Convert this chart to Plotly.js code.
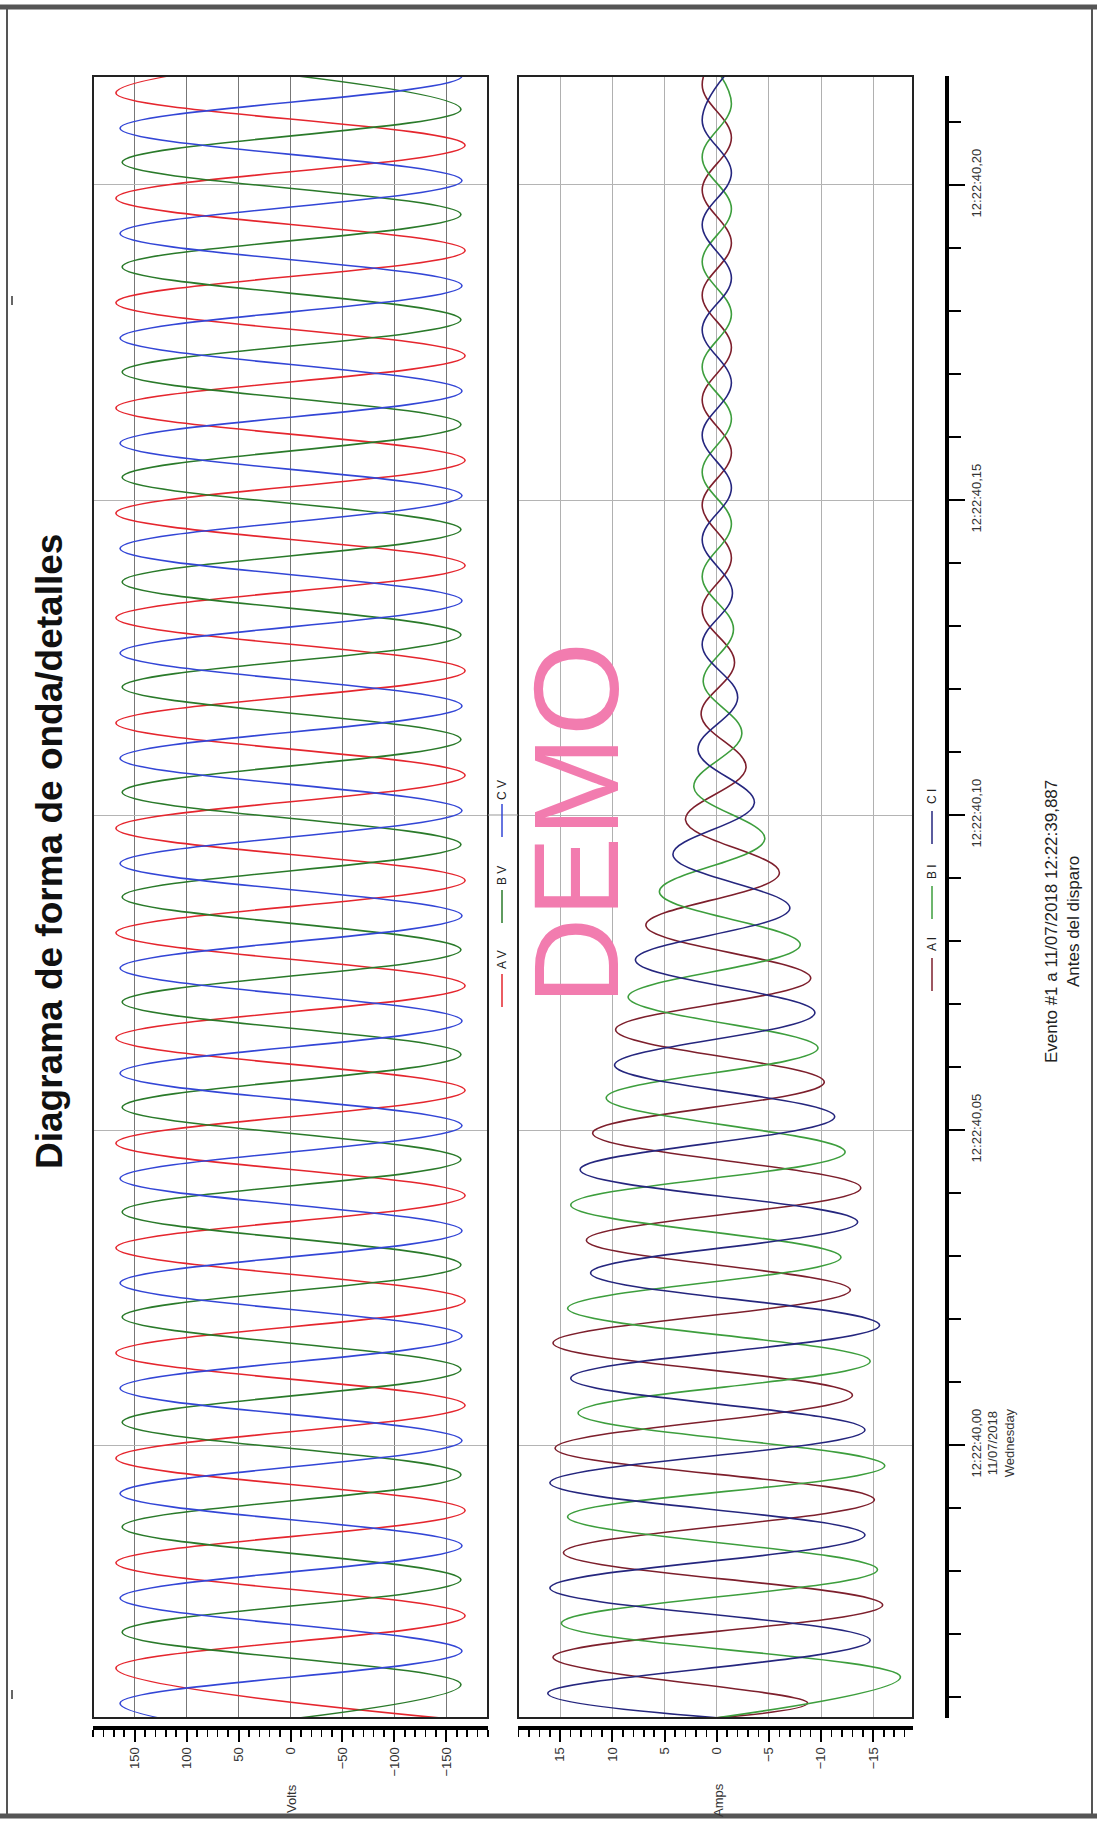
<!DOCTYPE html>
<html><head><meta charset="utf-8">
<script src="https://cdn.plot.ly/plotly-3.0.1.min.js"></script>
<style>html,body{margin:0;padding:0;background:#fff}#chart{width:1097px;height:1829px}</style>
</head><body><div id="chart"></div>
<script>
// ---- time in ms relative to 12:22:40,000 (peaks) ----
const vaT = [-43.7,-35.4,-27.1,-18.7,-10.4,-2.1,6.3,14.6,22.9,31.3,39.6,47.9,56.3,64.6,72.9,81.3,89.6,97.9,106.3,114.6,122.9,131.3,139.6,147.9,156.3,164.6,172.9,181.3,189.6,197.9,206.3,214.6,222.9];
const vaV = [-168,168,-168,168,-168,168,-168,168,-168,168,-168,168,-168,168,-168,168,-168,168,-168,168,-168,168,-168,168,-168,168,-168,168,-168,168,-168,168,-168];
const vbT = [-46.4,-38.0,-29.7,-21.4,-13.0,-4.7,3.6,12.0,20.3,28.6,37.0,45.3,53.6,62.0,70.3,78.6,87.0,95.3,103.6,112.0,120.3,128.6,137.0,145.3,153.6,162.0,170.3,178.6,187.0,195.3,203.6,212.0,220.3];
const vbV = [162,-164,162,-164,162,-164,162,-164,162,-164,162,-164,162,-164,162,-164,162,-164,162,-164,162,-164,162,-164,162,-164,162,-164,162,-164,162,-164,162];
const vcT = [-49.3,-41.0,-32.7,-24.3,-16.0,-7.7,0.7,9.0,17.3,25.7,34.0,42.3,50.7,59.0,67.3,75.7,84.0,92.3,100.7,109.0,117.3,125.7,134.0,142.3,150.7,159.0,167.3,175.7,184.0,192.3,200.7,209.0,217.3,225.7];
const vcV = [-165,164,-165,164,-165,164,-165,164,-165,164,-165,164,-165,164,-165,164,-165,164,-165,164,-165,164,-165,164,-165,164,-165,164,-165,164,-165,164,-165,164];

const iaT = [-43.3,-40.95,-33.7,-25.4,-17.1,-8.7,-0.5,7.9,16.2,24.6,32.5,40.8,49.5,57.6,65.9,74.1,82.5,90.8,99.2,107.5,115.9,124.2,132.5,140.8,149.2,157.5,165.9,174.2,182.5,190.8,199.2,207.5,215.9,224.2];
const iaV = [0,-8.7,15.7,-15.9,14.7,-15.1,15.5,-13.0,15.7,-12.8,12.5,-13.8,11.9,-10.3,9.7,-9.0,6.8,-6.0,3.0,-2.8,1.5,-1.7,1.4,-1.4,1.4,-1.4,1.4,-1.4,1.4,-1.4,1.4,-1.4,1.4,-1.4];
const ibT = [-43.3,-36.8,-28.3,-19.8,-11.4,-3.3,5.1,13.3,21.7,29.8,38.1,46.5,55.1,63.0,71.1,79.4,87.8,96.2,104.4,112.9,121.1,129.5,137.8,146.2,154.4,162.9,171.1,179.5,187.8,196.2,204.4,212.9,221.1];
const ibV = [0,-17.6,14.9,-15.4,14.3,-16.1,13.3,-14.7,14.3,-11.9,14.0,-12.3,10.6,-9.7,8.5,-8.0,5.5,-4.6,2.2,-2.4,1.3,-1.6,1.4,-1.4,1.4,-1.4,1.4,-1.4,1.4,-1.4,1.4,-1.4,1.4];
const icT = [-43.3,-39.4,-31.0,-22.7,-14.3,-6.0,2.4,10.6,19.0,27.3,35.4,43.7,52.1,60.3,68.6,77.0,85.2,93.7,101.9,110.3,118.6,127.0,135.2,143.7,151.9,160.3,168.6,177.0,185.2,193.7,201.9,210.3,218.6];
const icV = [0,16.2,-14.7,16.0,-14.2,16.0,-14.2,14.0,-15.6,12.1,-13.5,13.1,-11.3,9.8,-9.4,7.8,-7.0,4.2,-3.6,1.8,-2.0,1.4,-1.5,1.4,-1.4,1.4,-1.4,1.4,-1.4,1.4,-1.4,1.4,-1.4];

const voltNames = ['A V','B V','C V'];
const ampNames = ['A I','B I','C I'];
const timeTickVals = [0,50,100,150,200];
const timeTickText = ['12:22:40,00<br>11/07/2018<br>Wednesday','12:22:40,05','12:22:40,10','12:22:40,15','12:22:40,20'];
const timeMinorVals = [-40,-30,-20,-10,10,20,30,40,60,70,80,90,110,120,130,140,160,170,180,190,210];

const voltColors = ['#e5262e','#2a7a2a','#3346d6'];
const ampColors = ['#7d1f2c','#3d9e3d','#25267e'];

const W = 1097, H = 1829;
const fx = p => p / W;
const fy = p => 1 - p / H;
const FONT = 'Liberation Sans, Arial, sans-serif';

function tr(t, v, xa, name, color) {
  return {x: v, y: t, xaxis: xa, yaxis: 'y', name: name, type: 'scatter', mode: 'lines',
    line: {color: color, width: 1.6, shape: 'spline', smoothing: 1.1}, hoverinfo: 'skip'};
}
const data = [
  tr(vaT, vaV, 'x', voltNames[0], voltColors[0]),
  tr(vbT, vbV, 'x', voltNames[1], voltColors[1]),
  tr(vcT, vcV, 'x', voltNames[2], voltColors[2]),
  tr(iaT, iaV, 'x2', ampNames[0], ampColors[0]),
  tr(ibT, ibV, 'x2', ampNames[1], ampColors[1]),
  tr(icT, icV, 'x2', ampNames[2], ampColors[2])
];

const valAxis = (domain, range, dtick, mdtick, grid) => ({
  domain: domain, range: range, anchor: 'free', position: fy(1728), side: 'bottom',
  showline: true, linewidth: 4, linecolor: '#000', zeroline: false,
  ticks: 'outside', ticklen: 12, tickwidth: 2, tickcolor: '#000', tickmode: 'linear', tick0: 0, dtick: dtick,
  tickangle: -90, tickfont: {family: FONT, size: 13, color: '#333'},
  showgrid: true, gridcolor: grid, gridwidth: 1,
  minor: {dtick: mdtick, tick0: 0, ticks: 'outside', ticklen: 7, tickwidth: 1.5, tickcolor: '#000', showgrid: false}
});

const shapes = [
  {type: 'rect', xref: 'x domain', yref: 'y domain', x0: 0, x1: 1, y0: 0, y1: 1, line: {color: '#222', width: 2}},
  {type: 'rect', xref: 'x2 domain', yref: 'y domain', x0: 0, x1: 1, y0: 0, y1: 1, line: {color: '#222', width: 2}},
  {type: 'line', xref: 'paper', yref: 'y', x0: fx(488), x1: fx(518), y0: timeTickVals[2], y1: timeTickVals[2], line: {color: '#999', width: 1}},
  {type: 'line', xref: 'paper', yref: 'paper', x0: 0, x1: 1, y0: fy(7), y1: fy(7), line: {color: '#555', width: 5}},
  {type: 'line', xref: 'paper', yref: 'paper', x0: 0, x1: 1, y0: fy(1816), y1: fy(1816), line: {color: '#555', width: 5}},
  {type: 'line', xref: 'paper', yref: 'paper', x0: fx(7), x1: fx(7), y0: fy(7), y1: fy(1816), line: {color: '#555', width: 2}},
  {type: 'line', xref: 'paper', yref: 'paper', x0: fx(1092), x1: fx(1092), y0: fy(7), y1: fy(1816), line: {color: '#555', width: 2}},
  {type: 'line', xref: 'paper', yref: 'paper', x0: fx(12), x1: fx(12), y0: fy(296), y1: fy(305), line: {color: '#333', width: 1.5}},
  {type: 'line', xref: 'paper', yref: 'paper', x0: fx(12), x1: fx(12), y0: fy(1690), y1: fy(1699), line: {color: '#333', width: 1.5}}
];

const annotations = [
  {xref: 'paper', yref: 'paper', x: fx(49), y: fy(852), text: '<b>Diagrama de forma de onda/detalles</b>', textangle: -90,
   showarrow: false, xanchor: 'center', yanchor: 'middle', font: {family: FONT, size: 37, color: '#111'}},
  {xref: 'paper', yref: 'paper', x: fx(576), y: fy(824), text: 'DEMO', textangle: -90,
   showarrow: false, xanchor: 'center', yanchor: 'middle', font: {family: FONT, size: 121, color: '#f27caf'}},
  {xref: 'paper', yref: 'paper', x: fx(291), y: fy(1799), text: 'Volts', textangle: -90,
   showarrow: false, xanchor: 'center', yanchor: 'middle', font: {family: FONT, size: 13, color: '#333'}},
  {xref: 'paper', yref: 'paper', x: fx(718), y: fy(1800), text: 'Amps', textangle: -90,
   showarrow: false, xanchor: 'center', yanchor: 'middle', font: {family: FONT, size: 13, color: '#333'}},
  {xref: 'paper', yref: 'paper', x: fx(1063), y: fy(922), text: 'Evento #1 a 11/07/2018 12:22:39,887<br>Antes del disparo', textangle: -90,
   showarrow: false, xanchor: 'center', yanchor: 'middle', font: {family: FONT, size: 17, color: '#222'}}
];

// legends: a coloured line segment followed (upward) by the series name
function addLegend(xPx, labelPx, names, colors) {
  names.forEach((n, i) => {
    const c = labelPx[i];
    shapes.push({type: 'line', xref: 'paper', yref: 'paper', x0: fx(xPx), x1: fx(xPx),
      y0: fy(c + 14), y1: fy(c + 47), line: {color: colors[i], width: 1.5}});
    annotations.push({xref: 'paper', yref: 'paper', x: fx(xPx), y: fy(c), text: n, textangle: -90,
      showarrow: false, xanchor: 'center', yanchor: 'middle', font: {family: FONT, size: 12, color: '#222'}});
  });
}
addLegend(502, [960, 876, 790], voltNames, voltColors);
addLegend(932, [944, 872, 797], ampNames, ampColors);

const layout = {
  width: W, height: H, margin: {l: 0, r: 0, t: 0, b: 0},
  paper_bgcolor: '#fff', plot_bgcolor: '#fff', showlegend: false,
  font: {family: FONT, color: '#222'},
  xaxis: valAxis([fx(93), fx(488)], [190, -190], 50, 10, '#777777'),
  xaxis2: valAxis([fx(518), fx(913)], [19.05, -18.8], 5, 1, '#b0b0b0'),
  yaxis: {
    domain: [fy(1718), fy(76)], range: [-43.33, 217.3], anchor: 'free', position: fx(947), side: 'right',
    showline: true, linewidth: 4, linecolor: '#000', zeroline: false,
    tickmode: 'array', tickvals: timeTickVals, ticktext: timeTickText,
    ticks: 'outside', ticklen: 16, tickwidth: 2, tickcolor: '#000', tickangle: -90,
    tickfont: {family: FONT, size: 13, color: '#333'},
    showgrid: true, gridcolor: '#b4b4b4', gridwidth: 1,
    minor: {tickmode: 'array', tickvals: timeMinorVals, ticks: 'outside', ticklen: 12, tickwidth: 2, tickcolor: '#000', showgrid: false}
  },
  shapes: shapes,
  annotations: annotations
};

Plotly.newPlot('chart', data, layout, {staticPlot: true, displayModeBar: false});
</script></body></html>
